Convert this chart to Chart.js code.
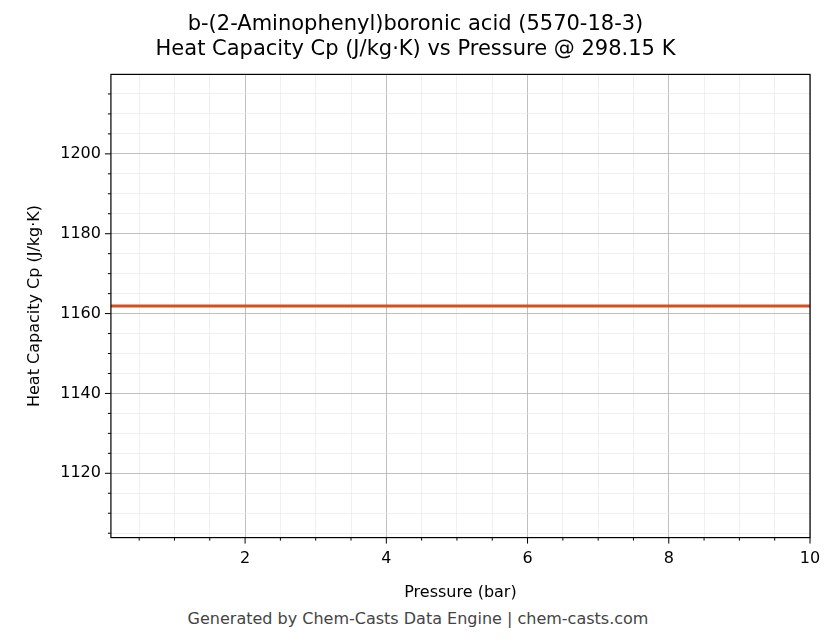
<!DOCTYPE html>
<html><head><meta charset="utf-8">
<script src="https://cdn.jsdelivr.net/npm/chart.js@4/dist/chart.umd.min.js"></script>
<style>
html,body{margin:0;padding:0;background:#fff;}
#wrap{position:relative;width:836px;height:644px;}
#foot{position:absolute;left:0;width:836px;top:609px;text-align:center;font:16px "DejaVu Sans";color:#444;}
</style></head><body>
<div id="wrap"><canvas id="c" width="836" height="602"></canvas>
<div id="foot">Generated by Chem-Casts Data Engine | chem-casts.com</div></div>
<script>
// ===== Data =====
const pressures=[0.1,1,2,3,4,5,6,7,8,9,10];
const cpValues=[1161.9,1161.9,1161.9,1161.9,1161.9,1161.9,1161.9,1161.9,1161.9,1161.9,1161.9];
const xMajor=[2,4,6,8,10];
const yMajor=[1120,1140,1160,1180,1200];

const font={family:"DejaVu Sans",size:16};
function mk(from,to,step){const t=[];for(let v=from;v<=to+1e-9;v+=step)t.push({value:+v.toFixed(3)});return t;}

// frame + outward ticks
const frame={id:"frame",afterDraw(ch){
  const {ctx,chartArea:a,scales:{x,y}}=ch;
  ctx.save();ctx.strokeStyle="#000";ctx.lineWidth=1.2;
  ctx.strokeRect(a.left,a.top,a.right-a.left,a.bottom-a.top);
  ctx.lineWidth=1;
  x.ticks.forEach(t=>{const p=x.getPixelForValue(t.value);const L=xMajor.includes(t.value)?6:3;
    ctx.beginPath();ctx.moveTo(p,a.bottom);ctx.lineTo(p,a.bottom+L);ctx.stroke();});
  y.ticks.forEach(t=>{const p=y.getPixelForValue(t.value);const L=yMajor.includes(t.value)?6:3;
    ctx.beginPath();ctx.moveTo(a.left,p);ctx.lineTo(a.left-L,p);ctx.stroke();});
  ctx.restore();}};

new Chart(document.getElementById("c"),{
  type:"line",
  data:{datasets:[{data:pressures.map((p,i)=>({x:p,y:cpValues[i]})),borderColor:"#d6501f",borderWidth:3,pointRadius:0}]},
  options:{responsive:false,animation:false,
    layout:{padding:{left:21,right:26,top:0,bottom:0}},
    plugins:{legend:{display:false},tooltip:{enabled:false},
      title:{display:true,text:["b-(2-Aminophenyl)boronic acid (5570-18-3)","Heat Capacity Cp (J/kg·K) vs Pressure @ 298.15 K"],
        color:"#000",font:{family:"DejaVu Sans",size:21,weight:"normal"},padding:{top:12,bottom:12},lineHeight:1.2}},
    scales:{
      x:{type:"linear",min:0.1,max:10,
        afterBuildTicks:s=>{s.ticks=mk(0.5,10,0.5);},
        grid:{drawTicks:false,color:c=>xMajor.includes(c.tick.value)?"#b0b0b0":"#e6e6e6",lineWidth:c=>xMajor.includes(c.tick.value)?0.8:0.6},
        border:{display:false},
        ticks:{autoSkip:false,maxRotation:0,padding:12,color:"#000",font,callback:v=>xMajor.includes(v)?String(v):""},
        title:{display:true,text:"Pressure (bar)",color:"#000",font,padding:{top:2,bottom:0}}},
      y:{type:"linear",min:1103.9,max:1219.9,
        afterBuildTicks:s=>{s.ticks=mk(1105,1215,5);},
        grid:{drawTicks:false,color:c=>yMajor.includes(c.tick.value)?"#b0b0b0":"#e6e6e6",lineWidth:c=>yMajor.includes(c.tick.value)?0.8:0.6},
        border:{display:false},
        ticks:{autoSkip:false,padding:10,color:"#000",font,callback:v=>yMajor.includes(v)?String(v):""},
        title:{display:true,text:"Heat Capacity Cp (J/kg·K)",color:"#000",font,padding:{bottom:6}}}
    }},
  plugins:[frame]
});
</script></body></html>
